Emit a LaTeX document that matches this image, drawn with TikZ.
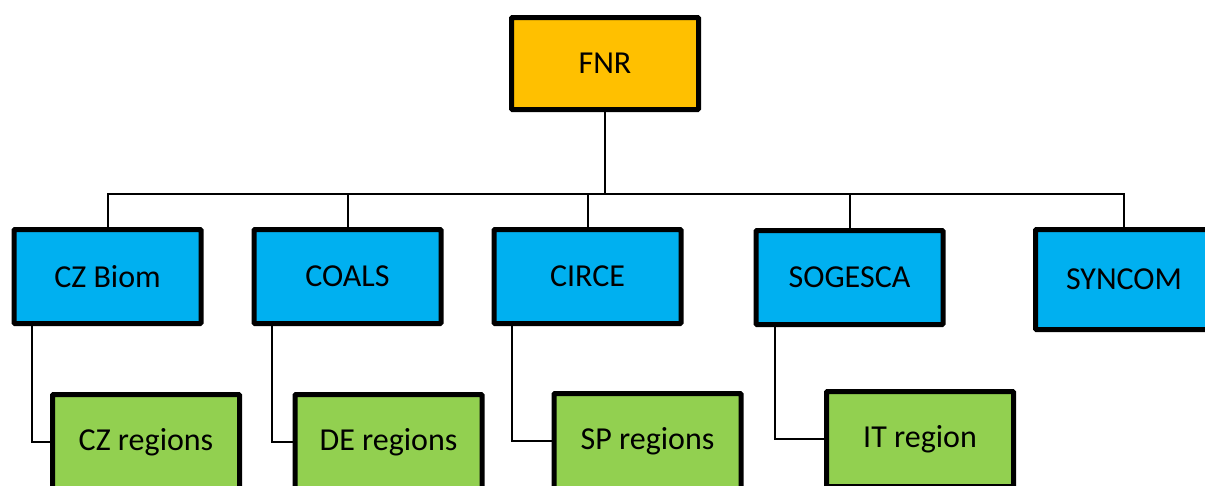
\documentclass[tikz,border=0pt]{standalone}
\usepackage{fontspec}
\setmainfont{Carlito}
\definecolor{fnrorange}{HTML}{FFC000}
\definecolor{orgblue}{HTML}{00B0F0}
\definecolor{orggreen}{HTML}{92D050}
\tikzset{
  box/.style={draw=black, line width=5pt, rounded corners=1pt, minimum width=187pt, minimum height=94pt, inner sep=0pt, font=\fontsize{32}{38}\selectfont},
  topbox/.style={box, fill=fnrorange, minimum height=92pt},
  partner/.style={box, fill=orgblue},
  region/.style={box, fill=orggreen, minimum height=95pt},
  link/.style={line width=2pt, draw=black}
}
\begin{document}
\begin{tikzpicture}[x=1pt,y=-1pt]
\useasboundingbox[fill=white] (0,0) rectangle (1205,485);
\clip (0,0) rectangle (1205,485);
\coordinate (bus) at (0,193.5);
% nodes
\node[topbox] (fnr) at (605,63.5) {FNR};
\node[partner] (czb) at (107.5,276.5) {CZ Biom};
\node[partner] (coals) at (347.5,276.5) {COALS};
\node[partner] (circe) at (587.5,276.5) {CIRCE};
\node[partner] (sog) at (849.5,277.5) {SOGESCA};
\node[partner, minimum height=100pt, minimum width=177pt] (syn) at (1124,279.5) {SYNCOM};
\node[region] (czr) at (146,442) {CZ regions};
\node[region] (der) at (388.5,442) {DE regions};
\node[region] (spr) at (647.5,441) {SP regions};
\node[region] (itr) at (920,439) {IT region};
% connectors
\draw[link] (fnr.south) -- (fnr.south |- bus);
\draw[link] (czb.north) -- (czb.north |- bus) -- (syn.north |- bus) -- (syn.north);
\draw[link] (coals.north) -- (coals.north |- bus);
\draw[link] (circe.north) -- (circe.north |- bus);
\draw[link] (sog.north) -- (sog.north |- bus);
\draw[link] ([xshift=20pt]czb.south west) |- (czr.west);
\draw[link] ([xshift=20pt]coals.south west) |- (der.west);
\draw[link] ([xshift=20pt]circe.south west) |- (spr.west);
\draw[link] ([xshift=21pt]sog.south west) |- (itr.west);
\end{tikzpicture}
\end{document}
